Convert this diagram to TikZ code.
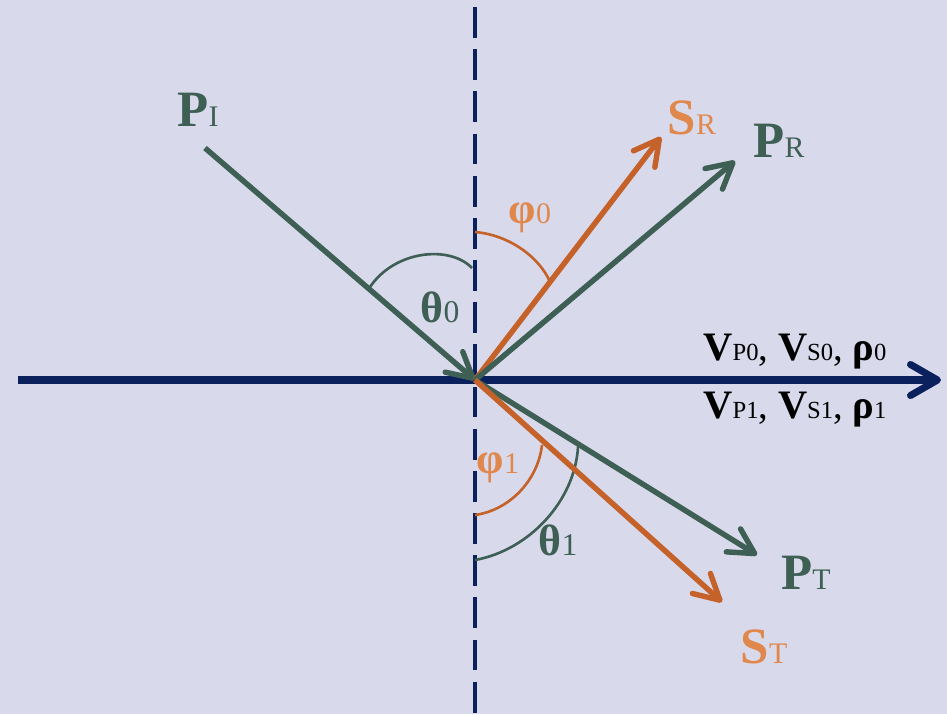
\documentclass[tikz,border=0pt]{standalone}
\usepackage{fontspec}
\setmainfont{Liberation Serif}
\usetikzlibrary{arrows.meta,positioning}
\definecolor{paper}{HTML}{D9D9EC}
\definecolor{navy}{HTML}{0B215E}
\definecolor{pine}{HTML}{3E5F54}
\definecolor{rust}{HTML}{C4622A}
\definecolor{peach}{HTML}{E0884C}
\newcommand{\wave}[4]{{\fontsize{#3}{#3}\selectfont\bfseries #1}{\fontsize{#4}{#4}\selectfont #2}}
\newcommand{\sep}{{\fontsize{22}{22}\selectfont, }}
\tikzset{
  ray/.style={-{Straight Barb[length=5mm,width=5.4mm,round]},line width=3.1pt},
  axis/.style={-{Straight Barb[length=5.4mm,width=6.2mm,round]},line width=4pt,draw=navy},
  normal/.style={line width=2pt,draw=navy,dash pattern=on 17.6pt off 6.4pt},
  angle/.style={line width=1.5pt},
  lbl/.style={inner sep=0pt}
}
\begin{document}
\begin{tikzpicture}[x=0.02cm,y=-0.02cm]
  \fill[paper] (0,0) rectangle (947,714);
  \useasboundingbox (0,0) rectangle (947,714);

  % interface and normal
  \coordinate (O) at (475,380);
  \coordinate (west) at (18,380);
  \coordinate (east) at (941,380);
  \coordinate (vtop) at (475,7);
  \coordinate (vbot) at (475,714);
  \draw[normal] (vtop) -- (vbot);
  \draw[axis] (west) -- (east);

  % ray ends
  \coordinate (pin) at (205,148);
  \coordinate (sr) at (661,137);
  \coordinate (pr) at (735,161);
  \coordinate (pt) at (757,555);
  \coordinate (st) at (722,602);

  % angle arcs
  \draw[angle,pine] (370,287) .. controls (395,250) and (450,245) .. (472,268);
  \draw[angle,rust] (475,232) .. controls (510,235) and (540,258) .. (550,282);
  \draw[angle,rust] (475,515) .. controls (510,510) and (538,480) .. (542,445);
  \draw[angle,pine] (475,560) .. controls (530,550) and (575,500) .. (578,447);

  \draw[ray,pine] (pin) -- (O);
  \draw[ray,rust] (O) -- (sr);
  \draw[ray,pine] (O) -- (pr);
  \draw[ray,pine] (O) -- (pt);
  \draw[ray,rust] (O) -- (st);

  % labels
  \node[lbl,text=pine] (lpi) at (198,110) {\wave{P}{I}{29}{17}};
  \node[lbl,text=peach] (lsr) at (692,118) {\wave{S}{R}{29}{17}};
  \node[lbl,text=pine] (lpr) at (779,141) {\wave{P}{R}{29}{17}};
  \node[lbl,text=pine] (lpt) at (806,573) {\wave{P}{T}{29}{17}};
  \node[lbl,text=peach] (lst) at (764,647) {\wave{S}{T}{29}{17}};
  \node[lbl,text=pine] (th0) at (440,307) {\wave{θ}{0}{25}{18}};
  \node[lbl,text=peach] (ph0) at (530,218) {\wave{φ}{0}{25}{17}};
  \node[lbl,text=peach] (ph1) at (498,468) {\wave{φ}{1}{25}{17}};
  \node[lbl,text=pine] (th1) at (558,540) {\wave{θ}{1}{25}{18}};
  \node[lbl] (top) at (795,352) {\wave{V}{P0}{23}{14}\sep\wave{V}{S0}{23}{14}\sep\wave{ρ}{0}{23}{14}};
  \node[lbl] (bot) at (795,410) {\wave{V}{P1}{23}{14}\sep\wave{V}{S1}{23}{14}\sep\wave{ρ}{1}{23}{14}};
\end{tikzpicture}
\end{document}
